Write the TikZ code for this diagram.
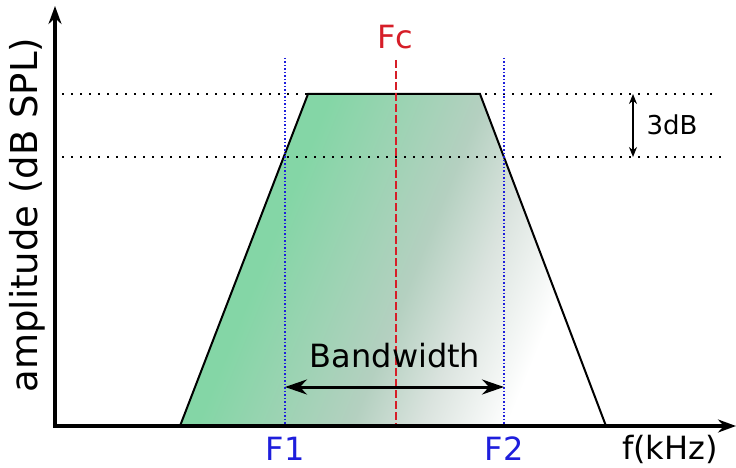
\documentclass[tikz,border=0pt]{standalone}
\usepackage{fontspec}
\setmainfont{DejaVu Sans}
\usetikzlibrary{arrows.meta}

\definecolor{bandgreen}{RGB}{132,214,166}
\definecolor{bandgrey}{RGB}{180,208,192}
\definecolor{bandlight}{RGB}{218,227,222}
\definecolor{fcred}{RGB}{214,30,40}
\definecolor{fblue}{RGB}{30,30,220}

% fill of the pass band
\pgfdeclarehorizontalshading{bandfade}{100bp}{color(0bp)=(bandgreen); color(35bp)=(bandgreen);
  color(53bp)=(bandgrey); color(61bp)=(bandlight); color(71bp)=(white); color(100bp)=(white)}

\begin{document}
\begin{tikzpicture}[
        x=1pt, y=-1pt,
        axis/.style={
          line width=4.5pt,
          -{Stealth[length=18pt,width=13pt]}
        },
        level/.style={
          line width=2.2pt,
          dash pattern=on 2.2pt off 6.8pt,
          draw=black
        },
        corner/.style={
          line width=1.3pt,
          dash pattern=on 1.5pt off 2pt,
          draw=fblue
        },
        center/.style={
          line width=1.6pt,
          dash pattern=on 8pt off 3pt,
          draw=fcred
        },
        span/.style={
          line width=3pt,
          {Stealth[length=22pt,width=15pt]}-{Stealth[length=22pt,width=15pt]}
        },
        label/.style={
          inner sep=0pt,
          font=\fontsize{32}{38}\selectfont
        }
      ]
      \useasboundingbox (0,0) rectangle (736,468);

      % Points
      \coordinate (O) at (55,426);
      \coordinate (ytop) at (55,6);
      \coordinate (xend) at (736,426);
      \coordinate (bl) at (180,426);
      \coordinate (tl) at (308,94);
      \coordinate (tr) at (480,94);
      \coordinate (br) at (606,426);

      % Band shape
      \shade [shading=bandfade, shading angle=-22]
        (bl) -- (tl) -- (tr) -- (br) -- cycle;
      \draw [line width=2pt, line join=miter] (bl) -- (tl) -- (tr) -- (br);

      % Levels
      \coordinate (top0) at (62,94);
      \coordinate (top1) at (718,94);
      \coordinate (low0) at (62,157);
      \coordinate (low1) at (722,157);
      \draw [level] (top0) -- (top1);
      \draw [level] (low0) -- (low1);

      % Frequency marks
      \coordinate (f1top) at (285,58);
      \coordinate (f1bot) at (285,426);
      \coordinate (f2top) at (504,58);
      \coordinate (f2bot) at (504,426);
      \coordinate (fctop) at (396,60);
      \coordinate (fcbot) at (396,426);
      \draw [corner] (f1top) -- (f1bot);
      \draw [corner] (f2top) -- (f2bot);
      \draw [center] (fctop) -- (fcbot);

      % Axes
      \draw [axis] ([yshift=2.25pt]O) -- (ytop);
      \draw [axis] ([xshift=-2.25pt]O) -- (xend);

      % Labels
      \node [label, text=fcred] (fc) at (395,37) {Fc};
      \node [label, text=fblue] (f1) at (285,449) {F1};
      \node [label, text=fblue] (f2) at (504,449) {F2};
      \node [label] (fk) at (670,449) {f(kHz)};
      \node [label, rotate=90, font=\fontsize{37}{44}\selectfont] (amp) at (27,215) {amplitude (dB SPL)};
      \node [label] (bw) at (395,356) {Bandwidth};
      \node [label, font=\fontsize{26}{31}\selectfont] (db) at (672,125) {3dB};

      % Spans
      \coordinate (bw0) at (285,387);
      \coordinate (bw1) at (504,387);
      \coordinate (db0) at (633,94);
      \coordinate (db1) at (633,157);
      \draw [span] (bw0) -- (bw1);
      \draw [span, line width=1.4pt, {Stealth[length=10pt,width=8pt]}-{Stealth[length=10pt,width=8pt]}] (db0) -- (db1);

    \end{tikzpicture}
\end{document}
